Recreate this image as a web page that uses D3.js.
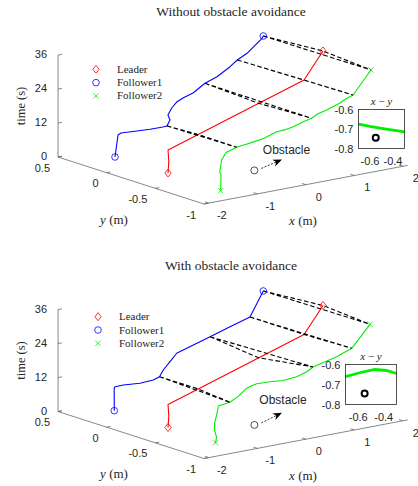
<!DOCTYPE html>
<html>
<head>
<meta charset="utf-8">
<script src="https://cdn.jsdelivr.net/npm/d3@7"></script>
<style>
    body { margin: 0; background: #fff; }
    svg text { fill: #262626; }
</style>
</head>
<body>
<div id="chart"></div>
<script>
// ---- data ----
// rows are [time (s), x (m), y (m)]
const leader = [[0, -1.317, -0.240], [4, -1.309, -0.244], [8, -1.303, -0.233], [26, 1.227, -0.370], [36, 1.501, -0.428]];

const f1Without = [[0, -1.359, 0.284], [8, -1.347, 0.259], [8.6, -1.296, 0.254], [9.6, -1.194, 0.181], [10.8, -1.022, 0.092],
    [11.6, -0.852, 0.044], [12, -0.806, 0.026], [12.86, -0.623, 0.086], [13.56, -0.528, 0.154], [14.6, -0.316, 0.221],
    [15.66, -0.114, 0.267], [16.56, 0.010, 0.268], [18, 0.177, 0.248], [20, 0.495, 0.283], [22, 0.688, 0.256],
    [24.5, 0.975, 0.265], [26, 1.168, 0.287], [28.5, 1.279, 0.242], [33, 1.298, 0.149], [35, 1.336, 0.116], [36, 1.331, 0.101]];

const f2Without = [[0, -1.347, -0.796], [5.5, -1.338, -0.795], [6.5, -1.348, -0.787], [10.8, -1.330, -0.798], [11.5, -1.052, -0.704],
    [12, -0.760, -0.668], [12.3, -0.700, -0.675], [12.75, -0.600, -0.687], [13.2, -0.500, -0.697], [14.1, -0.300, -0.715],
    [15.5, -0.012, -0.707], [16.3, 0.100, -0.745], [17.2, 0.210, -0.766], [18.5, 0.393, -0.778], [20, 0.468, -0.827],
    [21, 0.620, -0.815], [22, 0.769, -0.831], [24, 0.995, -0.855], [25, 1.130, -0.850], [26, 1.258, -0.858], [36, 1.357, -0.993]];

const f1With = [[0, -1.336, 0.303], [8, -1.347, 0.298], [8.4, -1.319, 0.304], [9, -1.211, 0.272], [10, -1.040, 0.186],
    [11, -0.849, 0.145], [12, -0.750, 0.130], [12.94, -0.538, 0.197], [14.23, -0.263, 0.265], [15.52, 0.015, 0.335],
    [16.87, 0.192, 0.320], [18.65, 0.427, 0.301], [20, 0.605, 0.286], [23, 0.924, 0.240], [26, 1.232, 0.188], [36, 1.311, 0.091]];

const f2With = [[0, -1.318, -0.728], [2, -1.310, -0.735], [4.7, -1.332, -0.725], [7, -1.325, -0.722], [9.8, -1.301, -0.732],
    [11, -1.054, -0.626], [12, -0.868, -0.653], [13.8, -0.700, -0.660], [14.6, -0.580, -0.640], [15.3, -0.470, -0.625],
    [16, -0.380, -0.630], [16.6, -0.300, -0.645], [17.6, -0.158, -0.710], [18, 0.014, -0.759], [18.8, 0.253, -0.780],
    [19.4, 0.516, -0.752], [20, 0.719, -0.715], [23.5, 1.042, -0.798], [26, 1.289, -0.829], [36, 1.352, -0.986]];

const obstacle = {x: -0.55, y: -0.745, t: 4};
const linkTimes = [12, 20, 26, 36];   // formation snapshots (dashed)

const timeTicks = [0, 12, 24, 36];
const xTicks = [-2, -1, 0, 1, 2];
const yTicks = [0.5, 0, -0.5, -1];
const insetXTicks = [-0.6, -0.4];
const insetYTicks = [-0.6, -0.7, -0.8];
const legendNames = ["Leader", "Follower1", "Follower2"];
const titles = ["Without obstacle avoidance", "With obstacle avoidance"];

// ---- setup ----
const W = 418, H = 486;
const svg = d3.select("#chart").append("svg")
    .attr("width", W)
    .attr("height", H);

const serif = "'Liberation Serif', 'Times New Roman', serif";
const sans = "'Liberation Sans', Arial, sans-serif";
const colors = ["#ff0000", "#0000ff", "#00ee00"];
const markers = ["diamond", "circle", "cross"];

// 3D -> screen (fixed MATLAB-like view)
const sx = d3.scaleLinear().domain([-2.1, 2.1]).range([0, 1]);
const sy = d3.scaleLinear().domain([-1, 0.5]).range([0, 1]);
const st = d3.scaleLinear().domain([0, 36]).range([0, 1]);
const EX = [203.7, -38.64], EY = [-145.95, -46.95], ET = -102;

function proj(o, x, y, t) {
    return [o[0] + sx(x) * EX[0] + sy(y) * EY[0],
            o[1] + sx(x) * EX[1] + sy(y) * EY[1] + st(t) * ET];
}

// position on a trajectory at time T (linear between samples)
function at(rows, T) {
    let i = d3.bisector(d => d[0]).left(rows, T);
    if (i <= 0) return rows[0];
    if (i >= rows.length) return rows[rows.length - 1];
    let a = rows[i - 1], b = rows[i];
    let k = (T - a[0]) / (b[0] - a[0]);
    return [T, a[1] + k * (b[1] - a[1]), a[2] + k * (b[2] - a[2])];
}

function drawMarker(g, type, x, y, color) {
    if (type === "diamond") {
        g.append("path").attr("d", "M0,-4L3.2,0L0,4L-3.2,0Z")
            .attr("transform", `translate(${x},${y})`)
            .attr("fill", "none").attr("stroke", color).attr("stroke-width", 0.8);
    } else if (type === "circle") {
        g.append("circle").attr("cx", x).attr("cy", y).attr("r", 3.3)
            .attr("fill", "none").attr("stroke", color).attr("stroke-width", 0.8);
    } else {
        g.append("path").attr("d", "M-2.6,-2.6L2.6,2.6M-2.6,2.6L2.6,-2.6")
            .attr("transform", `translate(${x},${y})`)
            .attr("fill", "none").attr("stroke", color).attr("stroke-width", 0.8);
    }
}

function drawPanel(p) {
    let g = svg.append("g");
    let O = p.origin;
    let P = (x, y, t) => proj(O, x, y, t);
    let axisColor = "#555";

    // title
    g.append("text").attr("x", 231).attr("y", p.titleY)
        .attr("text-anchor", "middle")
        .style("font-family", serif).style("font-size", "13.5px")
        .text(p.title);

    // axes lines
    let axes = [[P(-2.1, 0.5, 0), P(-2.1, -1, 0)], [P(-2.1, -1, 0), P(2.1, -1, 0)], [P(-2.1, 0.5, 0), P(-2.1, 0.5, 36)]];
    axes.forEach(a => {
        g.append("line").attr("x1", a[0][0]).attr("y1", a[0][1]).attr("x2", a[1][0]).attr("y2", a[1][1])
            .attr("stroke", axisColor).attr("stroke-width", 0.7);
    });

    // time ticks
    timeTicks.forEach(t => {
        let a = P(-2.1, 0.5, t), b = P(-2.02, 0.5, t);
        g.append("line").attr("x1", a[0]).attr("y1", a[1]).attr("x2", b[0]).attr("y2", b[1])
            .attr("stroke", axisColor).attr("stroke-width", 0.7);
        g.append("text").attr("x", a[0] - 11).attr("y", a[1] + 3)
            .attr("text-anchor", "end")
            .style("font-family", sans).style("font-size", "11px")
            .text(t);
    });
    yTicks.forEach(v => {
        let a = P(-2.1, v, 0), b = P(-2.02, v, 0);
        g.append("line").attr("x1", a[0]).attr("y1", a[1]).attr("x2", b[0]).attr("y2", b[1])
            .attr("stroke", axisColor).attr("stroke-width", 0.7);
        g.append("text").attr("x", a[0] - 8).attr("y", a[1] + 14.5)
            .attr("text-anchor", "end")
            .style("font-family", sans).style("font-size", "11px")
            .text(v);
    });
    xTicks.forEach(v => {
        let a = P(v, -1, 0), b = P(v, -0.96, 0);
        g.append("line").attr("x1", a[0]).attr("y1", a[1]).attr("x2", b[0]).attr("y2", b[1])
            .attr("stroke", axisColor).attr("stroke-width", 0.7);
        g.append("text").attr("x", a[0] + 13).attr("y", a[1] + 16)
            .attr("text-anchor", "middle")
            .style("font-family", sans).style("font-size", "11px")
            .text(v);
    });

    // axis labels
    g.append("text")
        .attr("transform", `translate(25,${O[1] - 98}) rotate(-90)`)
        .attr("text-anchor", "middle")
        .style("font-family", serif).style("font-size", "12.5px")
        .text("time (s)");
    let yl = g.append("text").attr("x", 114).attr("y", O[1] + 19.5)
        .attr("text-anchor", "middle")
        .style("font-family", serif).style("font-size", "13px");
    yl.append("tspan").style("font-style", "italic").text("y");
    yl.append("tspan").text(" (m)");
    let xl = g.append("text").attr("x", 303).attr("y", O[1] + 21)
        .attr("text-anchor", "middle")
        .style("font-family", serif).style("font-size", "13px");
    xl.append("tspan").style("font-style", "italic").text("x");
    xl.append("tspan").text(" (m)");

    // trajectories
    let line = d3.line().x(d => P(d[1], d[2], d[0])[0]).y(d => P(d[1], d[2], d[0])[1]);
    let series = [leader, p.f1, p.f2];
    series.forEach((rows, i) => {
        g.append("path").datum(rows)
            .attr("d", line)
            .attr("fill", "none")
            .attr("stroke", colors[i])
            .attr("stroke-width", 1.1)
            .attr("stroke-linejoin", "round");
    });

    // formation links
    linkTimes.forEach(T => {
        let pl = at(leader, T), p1 = at(p.f1, T), p2 = at(p.f2, T);
        let a = P(p1[1], p1[2], T), b = P(pl[1], pl[2], T), c = P(p2[1], p2[2], T);
        g.append("path")
            .attr("d", `M${a[0]},${a[1]}L${b[0]},${b[1]}L${c[0]},${c[1]}M${a[0]},${a[1]}L${c[0]},${c[1]}`)
            .attr("fill", "none").attr("stroke", "#000").attr("stroke-width", 1.1)
            .attr("stroke-dasharray", "4.5,2.5");
    });

    // start / end markers
    series.forEach((rows, i) => {
        [rows[0], rows[rows.length - 1]].forEach(d => {
            let q = P(d[1], d[2], d[0]);
            drawMarker(g, markers[i], q[0], q[1], colors[i]);
        });
    });

    // obstacle + annotation
    let ob = P(obstacle.x, obstacle.y, obstacle.t);
    g.append("circle").attr("cx", ob[0]).attr("cy", ob[1]).attr("r", 3.5)
        .attr("fill", "none").attr("stroke", "#222").attr("stroke-width", 0.8);
    let a0 = [ob[0] + 7, ob[1] - 2], tip = [282, O[1] + p.arrowTipDy];
    let dx = tip[0] - a0[0], dy = tip[1] - a0[1], len = Math.hypot(dx, dy);
    let ux = dx / len, uy = dy / len;
    let base = [tip[0] - 9 * ux, tip[1] - 9 * uy];
    let notch = [tip[0] - 6.5 * ux, tip[1] - 6.5 * uy];
    g.append("line").attr("x1", a0[0]).attr("y1", a0[1]).attr("x2", notch[0]).attr("y2", notch[1])
        .attr("stroke", "#000").attr("stroke-width", 0.8).attr("stroke-dasharray", "2,1.5");
    g.append("path")
        .attr("d", `M${tip[0]},${tip[1]}L${base[0] - 3.6 * uy},${base[1] + 3.6 * ux}L${notch[0]},${notch[1]}L${base[0] + 3.6 * uy},${base[1] - 3.6 * ux}Z`)
        .attr("fill", "#000");
    g.append("text").attr("x", p.obsText[0]).attr("y", p.obsText[1])
        .attr("text-anchor", "middle")
        .style("font-family", sans).style("font-size", "12px")
        .text("Obstacle");

    // legend
    legendNames.forEach((name, i) => {
        let ly = p.legend[1] + i * 13.3;
        drawMarker(g, markers[i], p.legend[0], ly, colors[i]);
        g.append("text").attr("x", p.legend[0] + 21).attr("y", ly + 3.5)
            .style("font-family", serif).style("font-size", "11px")
            .text(name);
    });

    // x-y inset
    let b = p.inset;
    let ig = g.append("g").attr("transform", `translate(${b.x},${b.y})`);
    let ix = d3.scaleLinear().domain([-0.7, -0.3]).range([0, b.w]);
    let iy = d3.scaleLinear().domain([-0.8, -0.6]).range([b.h, 0]);
    ig.append("rect").attr("width", b.w).attr("height", b.h).attr("fill", "#fff");
    ig.append("clipPath").attr("id", "clip" + p.id)
        .append("rect").attr("width", b.w).attr("height", b.h);
    ig.append("path").datum(p.f2)
        .attr("clip-path", `url(#clip${p.id})`)
        .attr("d", d3.line().x(d => ix(d[1])).y(d => iy(d[2])))
        .attr("fill", "none").attr("stroke", colors[2]).attr("stroke-width", 2.8);
    ig.append("circle").attr("cx", ix(obstacle.x)).attr("cy", iy(obstacle.y)).attr("r", 3)
        .attr("fill", "none").attr("stroke", "#000").attr("stroke-width", 2);
    ig.append("rect").attr("width", b.w).attr("height", b.h)
        .attr("fill", "none").attr("stroke", "#262626").attr("stroke-width", 0.8);
    insetYTicks.forEach(v => {
        ig.append("text").attr("x", -5).attr("y", iy(v) + 4)
            .attr("text-anchor", "end")
            .style("font-family", sans).style("font-size", "11px")
            .text(v);
    });
    insetXTicks.forEach(v => {
        ig.append("text").attr("x", ix(v)).attr("y", b.h + 16)
            .attr("text-anchor", "middle")
            .style("font-family", sans).style("font-size", "11px")
            .text(v);
    });
    let it = ig.append("text").attr("x", b.w / 2).attr("y", -5)
        .attr("text-anchor", "middle")
        .style("font-family", serif).style("font-size", "11px");
    it.append("tspan").style("font-style", "italic").text("x");
    it.append("tspan").text(" \u2212 ");
    it.append("tspan").style("font-style", "italic").text("y");
}

drawPanel({
    id: 0, origin: [204, 204], title: titles[0], titleY: 16,
    f1: f1Without, f2: f2Without,
    legend: [96, 69.3], obsText: [286.5, 154], arrowTipDy: -44.5,
    inset: {x: 358.5, y: 109.5, w: 46, h: 39}
});
drawPanel({
    id: 1, origin: [204, 458.5], title: titles[1], titleY: 270,
    f1: f1With, f2: f2With,
    legend: [98, 316.7], obsText: [283, 404], arrowTipDy: -45.8,
    inset: {x: 345.5, y: 364.5, w: 51, h: 40}
});
</script>
</body>
</html>
